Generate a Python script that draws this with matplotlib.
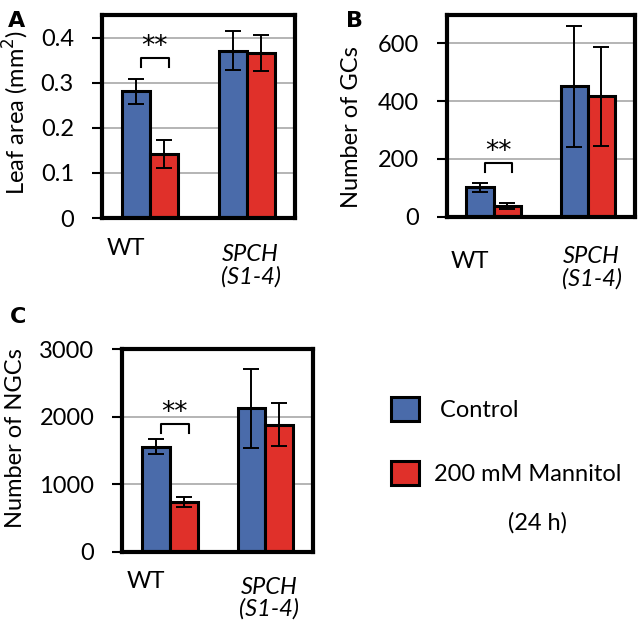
import numpy as np
import matplotlib
matplotlib.use('Agg')
import matplotlib.pyplot as plt
from matplotlib import transforms

plt.rcParams['font.family'] = ['Lato', 'DejaVu Sans']

# データ
groups = ['WT', 'SPCH\n(S1-4)']
series = ['Control', '200 mM Mannitol']

leaf_ctrl = [0.281, 0.371]
leaf_ctrl_err = [0.028, 0.043]
leaf_mann = [0.143, 0.367]
leaf_mann_err = [0.031, 0.040]

gc_ctrl = [102, 451]
gc_ctrl_err = [15, 210]
gc_mann = [38, 417]
gc_mann_err = [10, 171]

ngc_ctrl = [1560, 2125]
ngc_ctrl_err = [110, 585]
ngc_mann = [735, 1885]
ngc_mann_err = [75, 320]

ylabels = ['Leaf area (mm$^2$)', 'Number of GCs', 'Number of NGCs']
yticks = [[0, 0.1, 0.2, 0.3, 0.4], [0, 200, 400, 600], [0, 1000, 2000, 3000]]
yticklabels = [['0', '0.1', '0.2', '0.3', '0.4'], ['0', '200', '400', '600'],
               ['0', '1000', '2000', '3000']]
ylims = [0.45, 700, 3000]
bracket_y = [0.355, 185, 1900]
panel_letters = ['A', 'B', 'C']

blue = '#4A6BAA'
red = '#E0302A'
fs = 17

fig = plt.figure(figsize=(6.4, 6.32), dpi=100)
axes_rects = [
    [0.159, 0.655, 0.302, 0.321],
    [0.698, 0.657, 0.294, 0.320],
    [0.191, 0.127, 0.298, 0.320],
]
data = [
    (leaf_ctrl, leaf_ctrl_err, leaf_mann, leaf_mann_err),
    (gc_ctrl, gc_ctrl_err, gc_mann, gc_mann_err),
    (ngc_ctrl, ngc_ctrl_err, ngc_mann, ngc_mann_err),
]
# ラベル位置（軸座標）
wt_y = [-0.148, -0.223, -0.149]
sp_y = [-0.236, -0.252, -0.23]
ylab_pos = [(-0.445, 0.52), (-0.505, 0.445), (-0.56, 0.56)]
letter_pos = [(0.012, 0.982), (0.540, 0.982), (0.016, 0.515)]

x = np.arange(len(groups))
w = 0.29
bars_for_legend = None
for i, rect in enumerate(axes_rects):
    ax = fig.add_axes(rect)
    c, ce, m, me = data[i]
    b1 = ax.bar(x - w / 2, c, w, color=blue, edgecolor='black', linewidth=2.2, zorder=2)
    b2 = ax.bar(x + w / 2, m, w, color=red, edgecolor='black', linewidth=2.2, zorder=2)
    ax.errorbar(x - w / 2, c, yerr=ce, fmt='none', ecolor='black', elinewidth=1.4,
                capsize=6, capthick=1.4, zorder=3)
    ax.errorbar(x + w / 2, m, yerr=me, fmt='none', ecolor='black', elinewidth=1.4,
                capsize=6, capthick=1.4, zorder=3)
    if bars_for_legend is None:
        bars_for_legend = (b1, b2)

    ax.set_xlim(-0.5, 1.5)
    ax.set_ylim(0, ylims[i])
    ax.set_yticks(yticks[i])
    ax.set_yticklabels(yticklabels[i], fontsize=fs)
    ax.set_xticks([])
    for t in yticks[i][1:]:
        if t < ylims[i]:
            ax.axhline(t, color='#A0A0A0', linewidth=1.1, zorder=1)
    ax.tick_params(axis='y', length=7, width=1.5, pad=13)
    for s in ax.spines.values():
        s.set_linewidth(3)
        s.set_color('black')

    ax.set_ylabel(ylabels[i], fontsize=fs, va='center')
    ax.yaxis.set_label_coords(*ylab_pos[i])

    trans = transforms.blended_transform_factory(ax.transData, ax.transAxes)
    ax.text(x[0] - 0.25, wt_y[i], groups[0], transform=trans, ha='center', va='center',
            fontsize=fs)
    ax.text(x[1] + 0.04, sp_y[i], groups[1], transform=trans, ha='center', va='center',
            fontsize=fs, style='italic', linespacing=1.05)

    # 有意差の括弧
    x0 = x[0] - w / 2 + 0.05
    x1 = x[0] + w / 2 + 0.05
    yb = bracket_y[i]
    d = ylims[i] * 0.045
    ax.plot([x0, x0, x1, x1], [yb - d, yb, yb, yb - d], color='black', linewidth=1.5,
            zorder=4)
    ax.text((x0 + x1) / 2, yb - ylims[i] * 0.01, '**', ha='center', va='bottom',
            fontsize=19, family='DejaVu Sans')

    fig.text(letter_pos[i][0], letter_pos[i][1], panel_letters[i], fontsize=16,
             fontweight='bold', family='DejaVu Sans', va='top')

leg = fig.legend(bars_for_legend, [' Control', '200 mM Mannitol'],
                 loc='center left', bbox_to_anchor=(391 / 640, 1 - 441 / 632),
                 frameon=False, fontsize=fs, handlelength=1.2, handleheight=1.2,
                 labelspacing=1.7, handletextpad=0.6, borderpad=0, borderaxespad=0)
fig.text(537 / 640, 1 - 523 / 632, '(24 h)', ha='center', va='center', fontsize=fs)

plt.savefig('out.png', dpi=100)
